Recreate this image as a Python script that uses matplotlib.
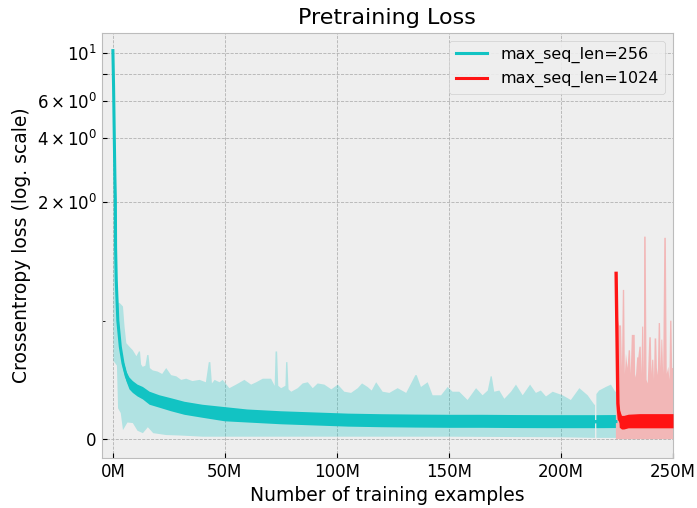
import numpy as np
import matplotlib
matplotlib.use("Agg")
import matplotlib.pyplot as plt
from matplotlib.lines import Line2D

plt.style.use("bmh")
plt.rcParams["font.family"] = ["DejaVu Sans"]

# ---------------- data (x in millions of training examples) ----------------
series_labels = ["max_seq_len=256", "max_seq_len=1024"]

# smoothed loss, max_seq_len=256
teal_x = [0.0, 0.3, 0.6, 0.9, 1.1, 1.2, 1.5, 2.2, 3.3, 4.5, 6.0, 7.4, 8.9, 11.0, 13.4,
          16.4, 20.8, 26.0, 32.0, 40.0, 50.0, 60.0, 75.0, 90.0, 105.0, 120.0, 135.0,
          150.0, 165.0, 180.0, 195.0, 210.0, 215.2, 215.5, 215.8, 224.5]
teal_smooth = [10.3, 7.0, 4.2, 2.6, 2.05, 1.62, 1.34, 1.0, 0.78, 0.64, 0.53, 0.47, 0.44,
               0.41, 0.39, 0.35, 0.32, 0.29, 0.26, 0.235, 0.21, 0.195, 0.18, 0.17, 0.16,
               0.155, 0.152, 0.15, 0.15, 0.148, 0.147, 0.147, 0.147, np.nan, 0.147, 0.148]
teal_smooth_lo = [10.3, 7.0, 4.2, 2.6, 2.05, 1.62, 1.34, 1.0, 0.78, 0.60, 0.49, 0.42, 0.39,
                  0.36, 0.335, 0.29, 0.265, 0.235, 0.205, 0.18, 0.15, 0.14, 0.125, 0.115,
                  0.105, 0.10, 0.097, 0.095, 0.095, 0.093, 0.092, 0.092, 0.092, np.nan,
                  0.092, 0.093]
teal_smooth_hi = [10.3, 7.0, 4.2, 2.6, 2.05, 1.62, 1.34, 1.0, 0.78, 0.68, 0.57, 0.52, 0.49,
                  0.46, 0.44, 0.40, 0.37, 0.345, 0.315, 0.29, 0.27, 0.25, 0.235, 0.225,
                  0.215, 0.21, 0.207, 0.205, 0.205, 0.203, 0.202, 0.202, 0.202, np.nan,
                  0.202, 0.203]

# raw loss envelope, max_seq_len=256 (upper edge)
teal_raw_hi_x = [0.0, 0.9, 1.6, 2.4, 3.0, 4.5, 5.2, 6.0, 7.4, 8.9, 10.5, 11.6, 12.1, 12.6,
                 13.3, 14.5, 15.3, 15.9, 16.5, 17.8, 20.0, 22.0, 23.8, 26.0, 28.3, 30.5,
                 32.7, 35.5, 38.7, 41.5, 42.8, 43.5, 44.2, 45.4, 47.6, 49.0, 52.0, 55.0,
                 58.7, 61.7, 64.0, 66.9, 70.6, 72.2, 72.6, 73.3, 73.8, 75.1, 77.0, 77.3,
                 77.9, 78.4, 79.6, 82.5, 84.7, 87.0, 89.2, 91.4, 94.4, 97.5, 100.4, 103.3,
                 106.3, 109.3, 111.2, 113.7, 115.5, 117.5, 120.4, 123.4, 127.1, 130.9,
                 133.1, 135.0, 135.6, 137.5, 140.5, 142.7, 146.5, 149.4, 151.6, 154.6,
                 158.3, 162.1, 165.0, 167.3, 168.6, 169.1, 170.2, 172.5, 174.7, 177.7,
                 179.9, 182.9, 186.2, 188.8, 191.0, 193.3, 196.3, 200.7, 204.4, 208.2,
                 211.9, 214.9, 215.2, 215.8, 217.0, 220.0, 222.3, 224.2, 224.5]
teal_raw_hi = [10.3, 2.8, 1.5, 1.15, 1.15, 1.12, 0.95, 0.81, 0.78, 0.75, 0.70, 0.74, 0.74,
               0.63, 0.61, 0.62, 0.71, 0.71, 0.60, 0.58, 0.57, 0.55, 0.60, 0.54, 0.53, 0.50,
               0.51, 0.49, 0.50, 0.48, 0.65, 0.65, 0.47, 0.50, 0.48, 0.50, 0.43, 0.46,
               0.50, 0.46, 0.48, 0.51, 0.51, 0.45, 0.74, 0.74, 0.45, 0.43, 0.45, 0.65,
               0.65, 0.42, 0.40, 0.43, 0.47, 0.48, 0.43, 0.47, 0.46, 0.42, 0.46, 0.40,
               0.39, 0.43, 0.47, 0.44, 0.41, 0.48, 0.40, 0.39, 0.43, 0.39, 0.47, 0.54,
               0.54, 0.44, 0.48, 0.37, 0.37, 0.44, 0.40, 0.40, 0.33, 0.43, 0.37, 0.41,
               0.53, 0.53, 0.40, 0.41, 0.34, 0.40, 0.46, 0.37, 0.46, 0.39, 0.41, 0.36,
               0.40, 0.37, 0.33, 0.43, 0.37, 0.29, 0.29, 0.38, 0.41, 0.44, 0.46, 0.40, 0.40]
# raw loss envelope, max_seq_len=256 (lower edge)
teal_raw_lo_x = [0.0, 0.3, 1.8, 2.3, 3.5, 4.5, 6.5, 8.9, 11.0, 13.4, 15.6, 18.0, 23.8, 30.0,
                 40.0, 60.0, 100.0, 150.0, 200.0, 215.2, 215.8, 224.5]
teal_raw_lo = [10.3, 0.66, 0.62, 0.26, 0.22, 0.076, 0.14, 0.135, 0.07, 0.05, 0.10, 0.05,
               0.034, 0.03, 0.02, 0.02, 0.02, 0.02, 0.015, 0.01, 0.01, 0.01]
teal_gap = 215.5

# smoothed loss, max_seq_len=1024
red_x = [224.6, 225.4, 226.0, 227.0, 228.0, 230.0, 235.0, 240.0, 245.0, 250.0]
red_smooth = [1.40, 0.30, 0.17, 0.14, 0.14, 0.15, 0.155, 0.155, 0.155, 0.155]
red_smooth_lo = [1.40, 0.30, 0.10, 0.085, 0.085, 0.095, 0.095, 0.095, 0.095, 0.095]
red_smooth_hi = [1.40, 0.30, 0.25, 0.20, 0.20, 0.21, 0.215, 0.215, 0.215, 0.215]

# raw loss envelope, max_seq_len=1024
red_raw_hi_x = [224.5, 224.6, 225.5, 225.9, 226.8, 227.2, 227.6, 228.2, 228.5, 229.0, 229.7,
                230.2, 230.8, 231.1, 231.6, 232.9, 233.1, 233.5, 234.0, 234.5, 235.0,
                235.6, 235.9, 236.2, 236.7, 237.0, 237.1, 237.8, 238.2, 238.7, 239.4,
                240.1, 240.4, 240.7, 241.2, 241.5, 241.8, 242.5, 242.8, 243.2, 243.6,
                244.2, 244.5, 244.8, 245.2, 245.6, 246.1, 246.8, 247.2, 247.9, 248.4,
                248.7, 249.3, 249.6, 250.0]
red_raw_hi = [0.40, 1.40, 1.0, 0.96, 0.96, 0.60, 1.26, 1.26, 0.55, 0.72, 0.60, 0.75, 0.75,
              0.55, 0.88, 0.88, 0.52, 0.55, 0.69, 0.69, 0.78, 0.78, 0.55, 0.95, 0.95,
              0.55, 1.71, 1.71, 0.50, 0.47, 0.86, 0.86, 0.55, 0.67, 0.67, 0.50, 0.85,
              0.85, 0.60, 0.54, 0.98, 0.98, 0.60, 0.84, 0.84, 0.55, 1.70, 1.70, 0.55,
              0.61, 0.50, 1.0, 1.0, 0.60, 0.60]
red_raw_lo_x = [224.5, 250.0]
red_raw_lo = [0.0, 0.0]

x_ticks = [0, 50, 100, 150, 200, 250]
x_tick_labels = ["0M", "50M", "100M", "150M", "200M", "250M"]
y_ticks = [0, 2, 4, 6, 8, 10]
y_tick_labels = [r"$\mathdefault{0}$", r"$\mathdefault{2\times10^{0}}$",
                 r"$\mathdefault{4\times10^{0}}$", r"$\mathdefault{6\times10^{0}}$",
                 "", r"$\mathdefault{10^{1}}$"]
y_minor_ticks = [1]

# ---------------- styles ----------------
TEAL = "#12c3c3"
RED = "#ff1414"
M = 1e6

fig = plt.figure(figsize=(6.97, 5.08), dpi=100)
ax = fig.add_axes([0.1459, 0.0984, 0.8197, 0.8372])
ax.set_yscale("symlog", linthresh=2, linscale=1)


def poly(xs_hi, ys_hi, xs_lo, ys_lo, lo_lim, hi_lim, color, alpha):
    xh = np.array(xs_hi); yh = np.array(ys_hi)
    xl = np.array(xs_lo); yl = np.array(ys_lo)
    mh = (xh >= lo_lim) & (xh <= hi_lim)
    ml = (xl >= lo_lim) & (xl <= hi_lim)
    px = np.concatenate([xh[mh], xl[ml][::-1]]) * M
    py = np.concatenate([yh[mh], yl[ml][::-1]])
    ax.fill(px, py, color=color, alpha=alpha, lw=0, zorder=2)


poly(teal_raw_hi_x, teal_raw_hi, teal_raw_lo_x, teal_raw_lo, -1, teal_gap, TEAL, 0.28)
poly(teal_raw_hi_x, teal_raw_hi, teal_raw_lo_x, teal_raw_lo, teal_gap, 1e9, TEAL, 0.28)
poly(red_raw_hi_x, red_raw_hi, red_raw_lo_x, red_raw_lo, -1, 1e9, RED, 0.25)

tx = np.array(teal_x) * M
ax.fill_between(tx, teal_smooth_lo, teal_smooth_hi, color=TEAL, lw=0, zorder=3)
ax.plot(tx, teal_smooth, color=TEAL, lw=2.2, zorder=3)
rx = np.array(red_x) * M
ax.fill_between(rx, red_smooth_lo, red_smooth_hi, color=RED, lw=0, zorder=3)
ax.plot(rx, red_smooth, color=RED, lw=2.4, zorder=3)

ax.set_xlim(-5 * M, 250 * M)
ax.set_ylim(-0.16, 12.5)
ax.set_xticks([t * M for t in x_ticks])
ax.set_xticklabels(x_tick_labels)
ax.set_yticks(y_ticks)
ax.set_yticklabels(y_tick_labels)
ax.set_yticks(y_minor_ticks, minor=True)
ax.xaxis.set_minor_locator(matplotlib.ticker.NullLocator())
ax.tick_params(which="both", direction="in", labelsize=12, colors="black")
ax.tick_params(axis="y", which="minor", length=2)
ax.grid(True, which="major", color="#b2b2b2", linestyle="--", linewidth=0.6)
ax.grid(False, which="minor")
ax.set_axisbelow(True)
for s in ax.spines.values():
    s.set_color("#bcbcbc")

ax.set_title("Pretraining Loss", fontsize=16)
ax.set_xlabel("Number of training examples", fontsize=13.5)
ax.set_ylabel("Crossentropy loss (log. scale)", fontsize=13.5)

handles = [Line2D([], [], color=TEAL, lw=2.2), Line2D([], [], color=RED, lw=2.2)]
ax.legend(handles, series_labels, loc="upper right", fontsize=11.5,
          facecolor="#eeeeee", edgecolor="#cccccc", framealpha=0.9)

fig.savefig("out.png", dpi=100)
